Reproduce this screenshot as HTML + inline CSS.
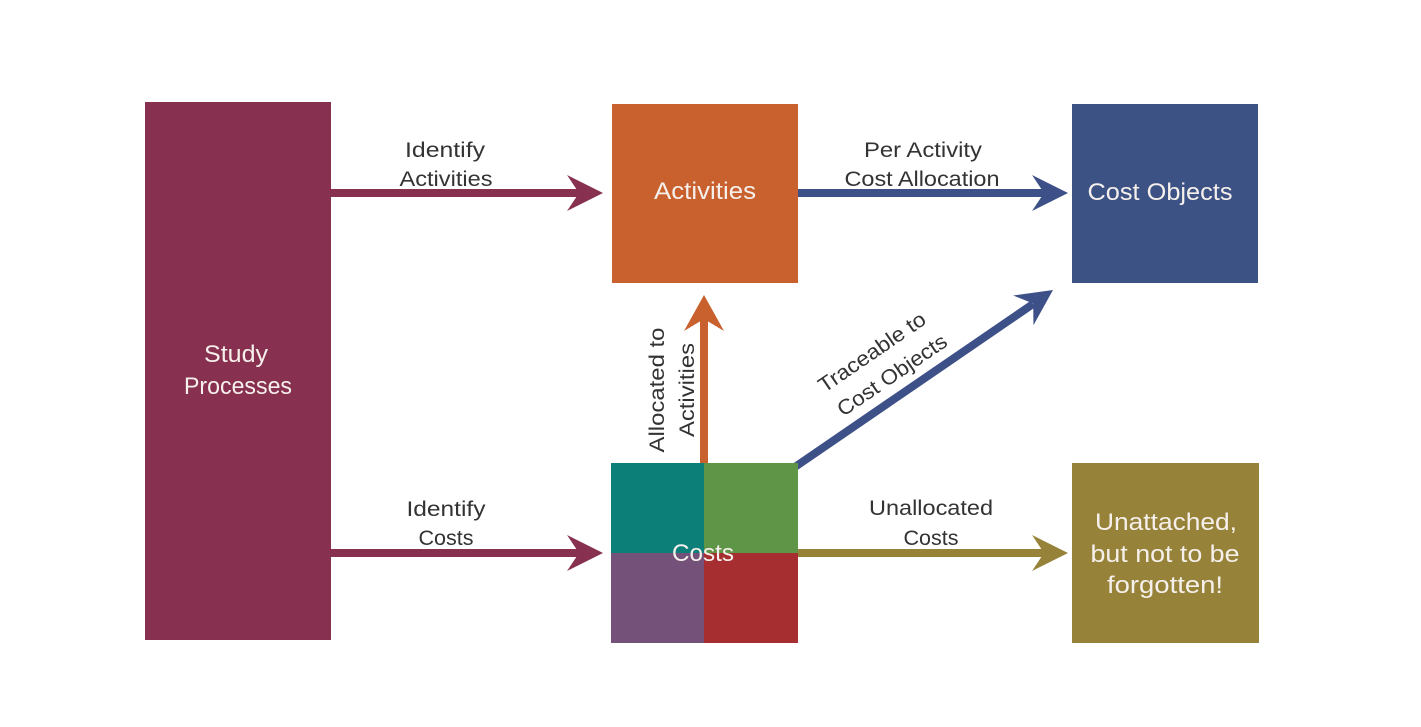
<!DOCTYPE html>
<html>
<head>
<meta charset="utf-8">
<style>
  html,body{margin:0;padding:0;background:#fff;}
  svg{display:block;}
  .lbl{font-family:"Liberation Sans",sans-serif;font-size:21px;fill:#333;}
  .box{font-family:"Liberation Sans",sans-serif;font-size:24px;fill:#f6f0ec;}
</style>
</head>
<body>
<svg width="1421" height="727" viewBox="0 0 1421 727" xmlns="http://www.w3.org/2000/svg">
  <rect x="0" y="0" width="1421" height="727" fill="#fff"/>

  <!-- connector lines -->
  <line x1="330" y1="193" x2="585" y2="193" stroke="#87304f" stroke-width="8"/>
  <line x1="330" y1="553" x2="585" y2="553" stroke="#87304f" stroke-width="8"/>
  <line x1="797" y1="193" x2="1050" y2="193" stroke="#3d5188" stroke-width="8"/>
  <line x1="797" y1="553" x2="1050" y2="553" stroke="#968339" stroke-width="8"/>
  <line x1="704" y1="465" x2="704" y2="318" stroke="#c9612e" stroke-width="8"/>
  <line x1="792" y1="469" x2="1033" y2="304" stroke="#3d5188" stroke-width="8"/>

  <!-- arrowheads -->
  <path d="M0,0 L-36,-18 L-24,0 L-36,18 Z" fill="#87304f" transform="translate(603,193)"/>
  <path d="M0,0 L-36,-18 L-24,0 L-36,18 Z" fill="#87304f" transform="translate(603,553)"/>
  <path d="M0,0 L-36,-18 L-24,0 L-36,18 Z" fill="#3d5188" transform="translate(1068,193)"/>
  <path d="M0,0 L-36,-18 L-24,0 L-36,18 Z" fill="#968339" transform="translate(1068,553)"/>
  <path d="M0,0 L-36,-20 L-24,0 L-36,20 Z" fill="#c9612e" transform="translate(704,295) rotate(-90)"/>
  <path d="M0,0 L-36,-18 L-24,0 L-36,18 Z" fill="#3d5188" transform="translate(1053,290) rotate(-34.4)"/>

  <!-- boxes -->
  <rect x="145" y="102" width="186" height="538" fill="#87304f"/>
  <rect x="612" y="104" width="186" height="179" fill="#c9612e"/>
  <rect x="1072" y="104" width="186" height="179" fill="#3c5285"/>
  <rect x="1072" y="463" width="187" height="180" fill="#968339"/>
  <rect x="611" y="463" width="93" height="90" fill="#0d7f79"/>
  <rect x="704" y="463" width="94" height="90" fill="#5f9547"/>
  <rect x="611" y="553" width="93" height="90" fill="#745178"/>
  <rect x="704" y="553" width="94" height="90" fill="#a62e30"/>

  <!-- box text -->
  <text class="box" x="236" y="362" text-anchor="middle" textLength="64" lengthAdjust="spacingAndGlyphs">Study</text>
  <text class="box" x="238" y="394" text-anchor="middle" textLength="108" lengthAdjust="spacingAndGlyphs">Processes</text>
  <text class="box" x="705" y="199" text-anchor="middle" textLength="102" lengthAdjust="spacingAndGlyphs">Activities</text>
  <text class="box" x="1160" y="200" text-anchor="middle" textLength="145" lengthAdjust="spacingAndGlyphs">Cost Objects</text>
  <text class="box" x="703" y="561" text-anchor="middle" textLength="62" lengthAdjust="spacingAndGlyphs">Costs</text>
  <text class="box" x="1166" y="530" text-anchor="middle" textLength="142" lengthAdjust="spacingAndGlyphs">Unattached,</text>
  <text class="box" x="1165" y="562" text-anchor="middle" textLength="149" lengthAdjust="spacingAndGlyphs">but not to be</text>
  <text class="box" x="1165" y="593" text-anchor="middle" textLength="116" lengthAdjust="spacingAndGlyphs">forgotten!</text>

  <!-- connector labels -->
  <text class="lbl" x="445" y="157" text-anchor="middle" textLength="80" lengthAdjust="spacingAndGlyphs">Identify</text>
  <text class="lbl" x="446" y="186" text-anchor="middle" textLength="93" lengthAdjust="spacingAndGlyphs">Activities</text>
  <text class="lbl" x="923" y="157" text-anchor="middle" textLength="118" lengthAdjust="spacingAndGlyphs">Per Activity</text>
  <text class="lbl" x="922" y="186" text-anchor="middle" textLength="155" lengthAdjust="spacingAndGlyphs">Cost Allocation</text>
  <text class="lbl" x="446" y="516" text-anchor="middle" textLength="79" lengthAdjust="spacingAndGlyphs">Identify</text>
  <text class="lbl" x="446" y="545" text-anchor="middle" textLength="55" lengthAdjust="spacingAndGlyphs">Costs</text>
  <text class="lbl" x="931" y="515" text-anchor="middle" textLength="124" lengthAdjust="spacingAndGlyphs">Unallocated</text>
  <text class="lbl" x="931" y="545" text-anchor="middle" textLength="55" lengthAdjust="spacingAndGlyphs">Costs</text>

  <!-- rotated labels -->
  <text class="lbl" text-anchor="middle" textLength="125" lengthAdjust="spacingAndGlyphs" transform="translate(664,390) rotate(-90)">Allocated to</text>
  <text class="lbl" text-anchor="middle" textLength="94" lengthAdjust="spacingAndGlyphs" transform="translate(694,390) rotate(-90)">Activities</text>
  <text class="lbl" text-anchor="middle" textLength="125" lengthAdjust="spacingAndGlyphs" transform="translate(876,358) rotate(-34.4)">Traceable to</text>
  <text class="lbl" text-anchor="middle" textLength="128" lengthAdjust="spacingAndGlyphs" transform="translate(896,381) rotate(-34.4)">Cost Objects</text>
</svg>
</body>
</html>
